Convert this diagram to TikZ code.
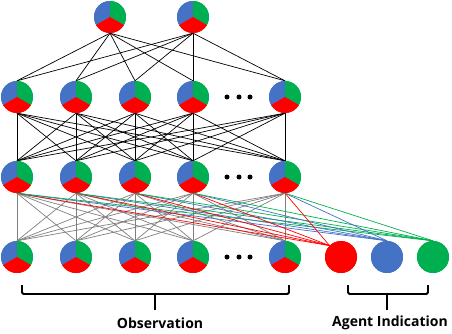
\documentclass[tikz,border=0pt]{standalone}
\usepackage{fontspec}
\setmainfont{Open Sans}
\definecolor{pblue}{HTML}{4472C4}
\definecolor{pgreen}{HTML}{00B050}
\definecolor{pred}{HTML}{FF0000}
\definecolor{lgray}{HTML}{7F7F7F}
\tikzset{
  pienode/.style={circle, minimum size=32pt, inner sep=0pt, path picture={
    \fill[pblue] (path picture bounding box.center) -- +(90:20pt) -- +(150:40pt) -- +(210:20pt) -- cycle;
    \fill[pgreen] (path picture bounding box.center) -- +(90:20pt) -- +(30:40pt) -- +(-30:20pt) -- cycle;
    \fill[pred] (path picture bounding box.center) -- +(210:20pt) -- +(270:40pt) -- +(330:20pt) -- cycle;
  }},
  agent/.style={circle, minimum size=32pt, inner sep=0pt, fill=#1},
  dotnode/.style={circle, fill=black, minimum size=5pt, inner sep=0pt},
  blk/.style={black, line width=0.7pt},
  gry/.style={lgray, line width=0.7pt},
  clr/.style={#1, line width=0.7pt},
  brace/.style={black, line width=1.8pt, rounded corners=1.5pt},
  lbl/.style={font=\bfseries\fontsize{14}{16}\selectfont, inner sep=0pt}
}
\begin{document}
\begin{tikzpicture}[x=1pt, y=1pt]
\useasboundingbox (0,0) rectangle (452,-334);
% nodes
\node[pienode] (t1) at (110,-17) {};
\node[pienode] (t2) at (193,-17) {};
\foreach \i/\x in {1/17,2/76,3/135,4/193,5/285} {
  \node[pienode] (a\i) at (\x,-97) {};
  \node[pienode] (b\i) at (\x,-177) {};
  \node[pienode] (c\i) at (\x,-257) {};
}
\node[agent=pred] (ar) at (341,-257) {};
\node[agent=pblue] (ab) at (387,-257) {};
\node[agent=pgreen] (ag) at (433,-257) {};
\foreach \r/\y in {a/-97,b/-177,c/-257} {
  \node[dotnode] (\r d1) at (227,\y) {};
  \node[dotnode] (\r d2) at (239,\y) {};
  \node[dotnode] (\r d3) at (250,\y) {};
}
% connectors
\foreach \t in {1,2} \foreach \j in {1,...,5} \draw[blk] (t\t.south) -- (a\j.north);
\foreach \i in {1,...,5} \foreach \j in {1,...,5} \draw[blk] (a\i.south) -- (b\j.north);
\foreach \i in {1,...,5} \foreach \j in {1,...,5} \draw[gry] (b\i.south) -- (c\j.north);
\foreach \i in {1,...,5} {
  \draw[clr=pred] (b\i.south) -- (ar.north west);
  \draw[clr=pblue] (b\i.south) -- (ab.north);
  \draw[clr=pgreen] (b\i.south) -- (ag.north);
}
% redraw nodes on top of connectors
\node[pienode] at (t1) {};
\node[pienode] at (t2) {};
\foreach \i in {1,...,5} {
  \node[pienode] at (a\i) {};
  \node[pienode] at (b\i) {};
  \node[pienode] at (c\i) {};
}
\node[agent=pred] at (ar) {};
\node[agent=pblue] at (ab) {};
\node[agent=pgreen] at (ag) {};
% braces
\draw[brace] (22,-285) -- (22,-294) -- (289,-294) -- (289,-285);
\draw[brace] (155,-294) -- (155,-310);
\draw[brace] (348,-285) -- (348,-294) -- (428,-294) -- (428,-285);
\draw[brace] (387,-294) -- (387,-310);
\node[lbl] (obs) at (160,-323) {Observation};
\node[lbl] (agi) at (390,-323) {Agent Indication};
\end{tikzpicture}
\end{document}
